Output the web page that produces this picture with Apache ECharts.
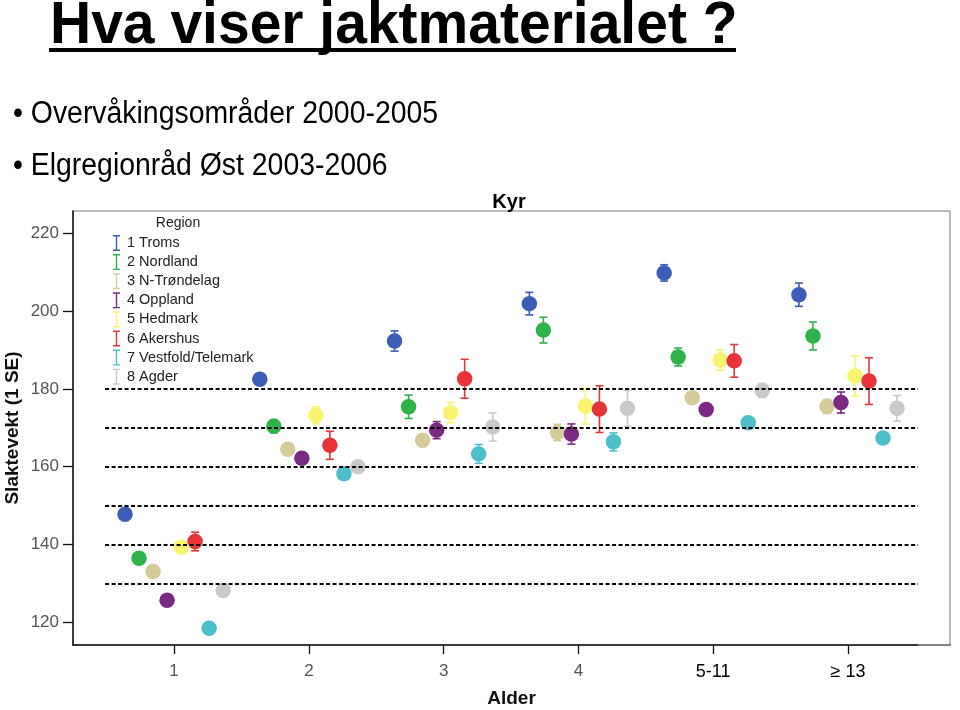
<!DOCTYPE html>
<html>
<head>
<meta charset="utf-8">
<script src="https://cdn.jsdelivr.net/npm/echarts@6/dist/echarts.min.js"></script>
<style>html,body{margin:0;padding:0;background:#fff;}#c{width:960px;height:710px;}</style>
</head>
<body>
<div id="c"></div>
<script>
// ---- data ----
const ageClasses = ['1', '2', '3', '4', '5-11', '≥ 13'];
const regions = ['1 Troms', '2 Nordland', '3 N-Trøndelag', '4 Oppland', '5 Hedmark', '6 Akershus', '7 Vestfold/Telemark', '8 Agder'];
const regionColors = ['#3d5cb8', '#2db34a', '#d3cc9a', '#7a2a83', '#f8f46e', '#e63438', '#4cbfca', '#c9c9c9'];
// mean carcass weight (kg) per region, per age class
const meanTroms     = [147.8, 182.5, 192.3, 201.9, 209.8, 204.2];
const meanNordland  = [136.5, 170.4, 175.4, 195.1, 188.2, 193.6];
const meanNTrondel  = [133.1, 164.5, 166.8, 168.8, 177.7, 175.5];
const meanOppland   = [125.7, 162.2, 169.4, 168.4, 174.7, 176.5];
const meanHedmark   = [139.3, 173.2, 173.9, 175.6, 187.4, 183.3];
const meanAkershus  = [140.8, 165.5, 182.6, 174.8, 187.2, 182.0];
const meanVestfold  = [118.5, 158.2, 163.3, 166.4, 171.3, 167.4];
const meanAgder     = [128.2, 160.0, 170.2, 175.0, 179.6, 175.0];
// standard error (1 SE)
const seTroms     = [0.6, 1.2, 2.6, 2.9, 2.1, 3.0];
const seNordland  = [0.6, 1.7, 3.0, 3.3, 2.3, 3.6];
const seNTrondel  = [0.5, 1.0, 1.6, 2.1, 1.0, 1.8];
const seOppland   = [0.5, 0.8, 2.2, 2.6, 1.0, 2.7];
const seHedmark   = [0.8, 2.2, 2.6, 4.6, 2.6, 5.2];
const seAkershus  = [2.4, 3.6, 5.0, 6.0, 4.2, 6.0];
const seVestfold  = [0.5, 1.0, 2.4, 2.3, 1.0, 1.2];
const seAgder     = [0.6, 1.1, 3.6, 4.6, 1.8, 3.3];
const yTicks = [120, 140, 160, 180, 200, 220];
const refLines = [130, 140, 150, 160, 170, 180];

const means = [meanTroms, meanNordland, meanNTrondel, meanOppland, meanHedmark, meanAkershus, meanVestfold, meanAgder];
const ses = [seTroms, seNordland, seNTrondel, seOppland, seHedmark, seAkershus, seVestfold, seAgder];

const dodge = 0.104;
const font = 'Liberation Sans, Arial, sans-serif';
const ibeam = 'path://M0,0h7v1.4h-7z M2.8,1.4h1.4v13.2h-1.4z M0,14.6h7v1.4h-7z';

const series = [];
// reference dashed lines
series.push({
  type: 'line', data: [], z: 1, silent: true,
  markLine: {
    silent: true, symbol: 'none', label: { show: false },
    lineStyle: { color: '#000', type: [4, 2.5], width: 2 },
    data: refLines.map(v => [{ coord: [0.488, v] }, { coord: [6.52, v] }])
  }
});
regions.forEach((name, k) => {
  const off = (k - 3.5) * dodge;
  const color = regionColors[k];
  series.push({
    name, type: 'custom', z: 3,
    itemStyle: { color },
    data: means[k].map((m, i) => [i + 1 + off, m, ses[k][i]]),
    renderItem: function (params, api) {
      const x = api.value(0), m = api.value(1), s = api.value(2);
      const top = api.coord([x, m + s]);
      const bot = api.coord([x, m - s]);
      const cw = 4;
      const st = { stroke: color, lineWidth: 1.6 };
      return {
        type: 'group', children: [
          { type: 'line', shape: { x1: top[0], y1: top[1], x2: bot[0], y2: bot[1] }, style: st },
          { type: 'line', shape: { x1: top[0] - cw, y1: top[1], x2: top[0] + cw, y2: top[1] }, style: st },
          { type: 'line', shape: { x1: bot[0] - cw, y1: bot[1], x2: bot[0] + cw, y2: bot[1] }, style: st }
        ]
      };
    }
  });
  series.push({
    name, type: 'scatter', z: 4, symbolSize: 15.5,
    itemStyle: { color, opacity: 1 },
    data: means[k].map((m, i) => [i + 1 + off, m])
  });
});

const chart = echarts.init(document.getElementById('c'));
chart.setOption({
  animation: false,
  backgroundColor: '#fff',
  grid: { left: 73, right: 10, top: 211, bottom: 65, show: true, borderColor: '#777', borderWidth: 1, outerBoundsMode: 'none', containLabel: false },
  xAxis: {
    type: 'value', min: 0.25, max: 6.757,
    name: 'Alder', nameLocation: 'middle', nameGap: 44,
    nameTextStyle: { fontFamily: font, fontWeight: 'bold', fontSize: 19, color: '#111' },
    axisLine: { show: true, onZero: false, lineStyle: { color: '#111', width: 1.5 } },
    axisTick: { show: true, customValues: [1, 2, 3, 4, 5, 6], length: 9, inside: false, lineStyle: { color: '#111', width: 1.3 } },
    axisLabel: {
      customValues: [1, 2, 3, 4, 5, 6], margin: 18,
      formatter: v => { const l = ageClasses[Math.round(v) - 1]; return Math.round(v) >= 5 ? '{b|' + l + '}' : '{a|' + l + '}'; },
      rich: {
        a: { fontFamily: font, fontSize: 17, color: '#555' },
        b: { fontFamily: font, fontSize: 18, color: '#000' }
      }
    },
    splitLine: { show: false }
  },
  yAxis: {
    type: 'value', min: 114.2, max: 225.7,
    name: 'Slaktevekt (1 SE)', nameLocation: 'middle', nameGap: 51, nameRotate: 90, nameMoveOverlap: false,
    nameTextStyle: { fontFamily: font, fontWeight: 'bold', fontSize: 19, color: '#111' },
    axisLine: { show: true, lineStyle: { color: '#111', width: 1.5 } },
    axisTick: { show: true, customValues: yTicks, length: 10, lineStyle: { color: '#111', width: 1.3 } },
    axisLabel: { customValues: yTicks, margin: 14, fontFamily: font, fontSize: 17, color: '#555' },
    splitLine: { show: false }
  },
  legend: {
    orient: 'vertical', left: 108, top: 230,
    itemWidth: 7, itemHeight: 16, itemGap: 3.1,
    selectedMode: false,
    textStyle: { fontFamily: font, fontSize: 14.5, color: '#222', lineHeight: 16, padding: [0, 0, 0, 2] },
    data: regions.map((r, k) => ({ name: r, icon: ibeam, itemStyle: { color: regionColors[k] } }))
  },
  graphic: [
    { type: 'text', x: 50, y: 26, scaleX: 0.95, style: { text: 'Hva viser jaktmaterialet ?', font: 'bold 60px "Liberation Sans", Arial', fill: '#000', textVerticalAlign: 'middle' } },
    { type: 'rect', shape: { x: 49, y: 48, width: 687, height: 4 }, style: { fill: '#000' } },
    { type: 'text', x: 13, y: 114, scaleX: 0.916, style: { text: '• Overvåkingsområder 2000-2005', font: '31px "Liberation Sans", Arial', fill: '#000', textVerticalAlign: 'middle' } },
    { type: 'text', x: 13, y: 166, scaleX: 0.916, style: { text: '• Elgregionråd Øst 2003-2006', font: '31px "Liberation Sans", Arial', fill: '#000', textVerticalAlign: 'middle' } },
    { type: 'text', x: 509, y: 202, style: { text: 'Kyr', font: 'bold 20px "Liberation Sans", Arial', fill: '#000', textAlign: 'center', textVerticalAlign: 'middle' } },
    { type: 'text', x: 178, y: 223, style: { text: 'Region', font: '14px "Liberation Sans", Arial', fill: '#222', textAlign: 'center', textVerticalAlign: 'middle' } },
    { type: 'line', z: 100, shape: { x1: 918, y1: 645, x2: 950, y2: 645 }, style: { stroke: '#999', lineWidth: 1.6 } }
  ],
  series
});
</script>
</body>
</html>
